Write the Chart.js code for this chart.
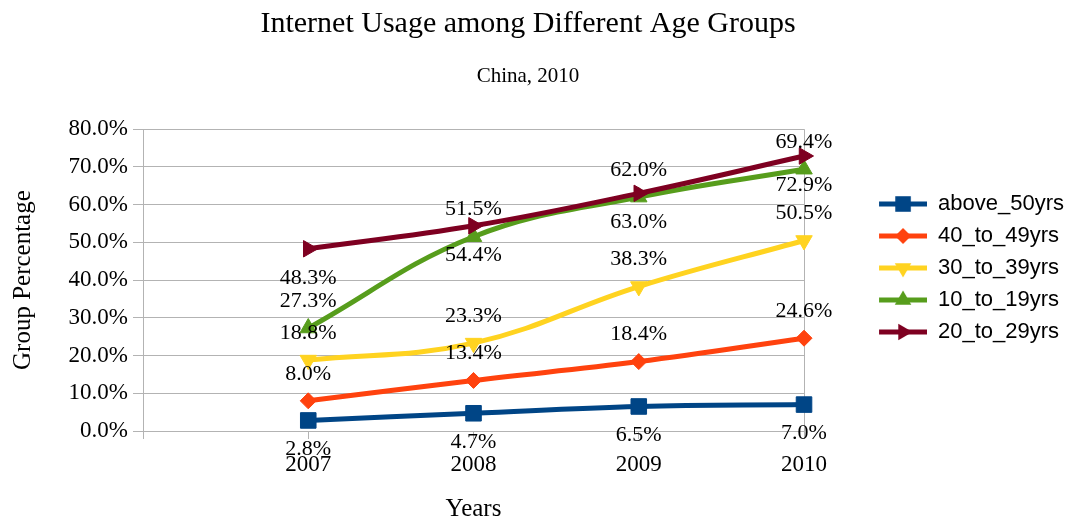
<!DOCTYPE html>
<html>
<head>
<meta charset="utf-8">
<script src="https://cdn.jsdelivr.net/npm/chart.js@4/dist/chart.umd.min.js"></script>
<style>
  html, body { margin: 0; padding: 0; background: #fff; }
</style>
</head>
<body>
<canvas id="usage" width="1074" height="522"></canvas>
<script>
// first slot is left empty so 2007 sits one step in from the axis
var years = ['', '2007', '2008', '2009', '2010'];

var above50 = [null, 2.8, 4.7, 6.5, 7.0];
var age40to49 = [null, 8.0, 13.4, 18.4, 24.6];
var age30to39 = [null, 18.8, 23.3, 38.3, 50.5];
var age10to19 = [null, 27.3, 51.5, 62.0, 69.4];
var age20to29 = [null, 48.3, 54.4, 63.0, 72.9];

var yMin = 0, yMax = 80, yStep = 10;

var serif = '"Liberation Serif", "Times New Roman", serif';
var sans = '"Liberation Sans", Arial, sans-serif';
var gridGrey = '#b3b3b3';

// legend symbol: blank lead-in, then a short thick line with the series marker on it
function legendIcon(color, style, rotation, radius) {
	var lead = 65, len = 48;
	var c = document.createElement('canvas');
	c.width = lead + len;
	c.height = 24;
	var g = c.getContext('2d');
	g.strokeStyle = color;
	g.lineWidth = 5;
	g.beginPath();
	g.moveTo(lead, 12);
	g.lineTo(lead + len, 12);
	g.stroke();
	g.fillStyle = color;
	Chart.helpers.drawPoint(g, {pointStyle: style, rotation: rotation, radius: radius, borderWidth: 0}, lead + len / 2, 12);
	return c;
}

function series(label, data, color, style, rotation, radius, below, order) {
	return {
		label: label,
		data: data,
		borderColor: color,
		backgroundColor: color,
		borderWidth: 5,
		tension: 0.4,
		pointStyle: style,
		pointRotation: rotation,
		pointRadius: radius,
		pointHoverRadius: radius,
		pointBorderWidth: 1,
		pointBackgroundColor: color,
		pointBorderColor: color,
		labelBelow: below,
		order: order,
		icon: legendIcon(color, style, rotation, radius)
	};
}

var datasets = [
	series('above_50yrs', above50, '#004586', 'rect', 0, 11, true, 5),
	series('40_to_49yrs', age40to49, '#ff420e', 'rectRot', 0, 8, false, 4),
	series('30_to_39yrs', age30to39, '#ffd320', 'triangle', 180, 9.5, false, 3),
	series('10_to_19yrs', age10to19, '#579d1c', 'triangle', 0, 9.5, false, 2),
	series('20_to_29yrs', age20to29, '#7e0021', 'triangle', 90, 9.5, true, 1)
];

// value text above / below every point
var valueLabels = {
	id: 'valueLabels',
	afterDatasetsDraw: function(chart) {
		var ctx = chart.ctx;
		ctx.save();
		ctx.font = '22px ' + serif;
		ctx.fillStyle = '#000';
		ctx.textAlign = 'center';
		ctx.textBaseline = 'middle';
		chart.data.datasets.forEach(function(ds, i) {
			var meta = chart.getDatasetMeta(i);
			meta.data.forEach(function(pt, j) {
				var v = ds.data[j];
				if (v === null) return;
				var dy = ds.labelBelow ? 29 : -27;
				ctx.fillText(v.toFixed(1) + '%', pt.x, pt.y + dy);
			});
		});
		ctx.restore();
	}
};

var ctx = document.getElementById('usage');

var usageChart = new Chart(ctx, {
	type: 'line',
	data: {
		labels: years,
		datasets: datasets
	},
	plugins: [valueLabels],
	options: {
		responsive: false,
		animation: false,
		layout: {
			padding: {left: -18, right: 0, top: 0, bottom: 0}
		},
		plugins: {
			tooltip: {enabled: false},
			title: {
				display: true,
				text: 'Internet Usage among Different Age Groups',
				color: '#000',
				font: {family: serif, size: 30, weight: 'normal'},
				padding: {top: 6, bottom: 10}
			},
			subtitle: {
				display: true,
				text: 'China, 2010',
				color: '#000',
				font: {family: serif, size: 21, weight: 'normal'},
				padding: {top: 12, bottom: 40}
			},
			legend: {
				position: 'right',
				// empty heading only nudges the entries down a little
				title: {display: true, text: '', font: {size: 10, lineHeight: 1.4}, padding: 0},
				labels: {
					color: '#000',
					font: {family: sans, size: 22},
					usePointStyle: true,
					pointStyleWidth: 113,
					padding: 10,
					sort: function(a, b) { return a.datasetIndex - b.datasetIndex; },
					generateLabels: function(chart) {
						var items = Chart.defaults.plugins.legend.labels.generateLabels(chart);
						items.forEach(function(it) {
							it.pointStyle = chart.data.datasets[it.datasetIndex].icon;
							it.rotation = 0;
						});
						return items;
					}
				}
			}
		},
		scales: {
			x: {
				offset: false,
				afterFit: function(s) { s.height = 91; },
				grid: {
					color: function(c) { return c.index === years.length - 1 ? gridGrey : 'rgba(0,0,0,0)'; },
					tickColor: gridGrey,
					tickLength: 8
				},
				border: {color: gridGrey},
				ticks: {
					color: '#000',
					font: {family: serif, size: 23},
					padding: 12,
					maxRotation: 0,
					autoSkip: false
				},
				title: {
					display: true,
					text: 'Years',
					color: '#000',
					font: {family: serif, size: 25, lineHeight: 1},
					padding: {top: 0, bottom: 0}
				}
			},
			y: {
				min: yMin,
				max: yMax,
				afterFit: function(s) { s.width = 161; },
				grid: {
					color: gridGrey,
					tickColor: gridGrey,
					tickLength: 10
				},
				border: {color: gridGrey},
				ticks: {
					stepSize: yStep,
					color: '#000',
					font: {family: serif, size: 23},
					padding: 5,
					callback: function(v) { return v.toFixed(1) + '%'; }
				},
				title: {
					display: true,
					text: 'Group Percentage',
					color: '#000',
					font: {family: serif, size: 25, lineHeight: 1},
					padding: {top: 29, bottom: 0}
				}
			}
		}
	}
});
</script>
</body>
</html>
